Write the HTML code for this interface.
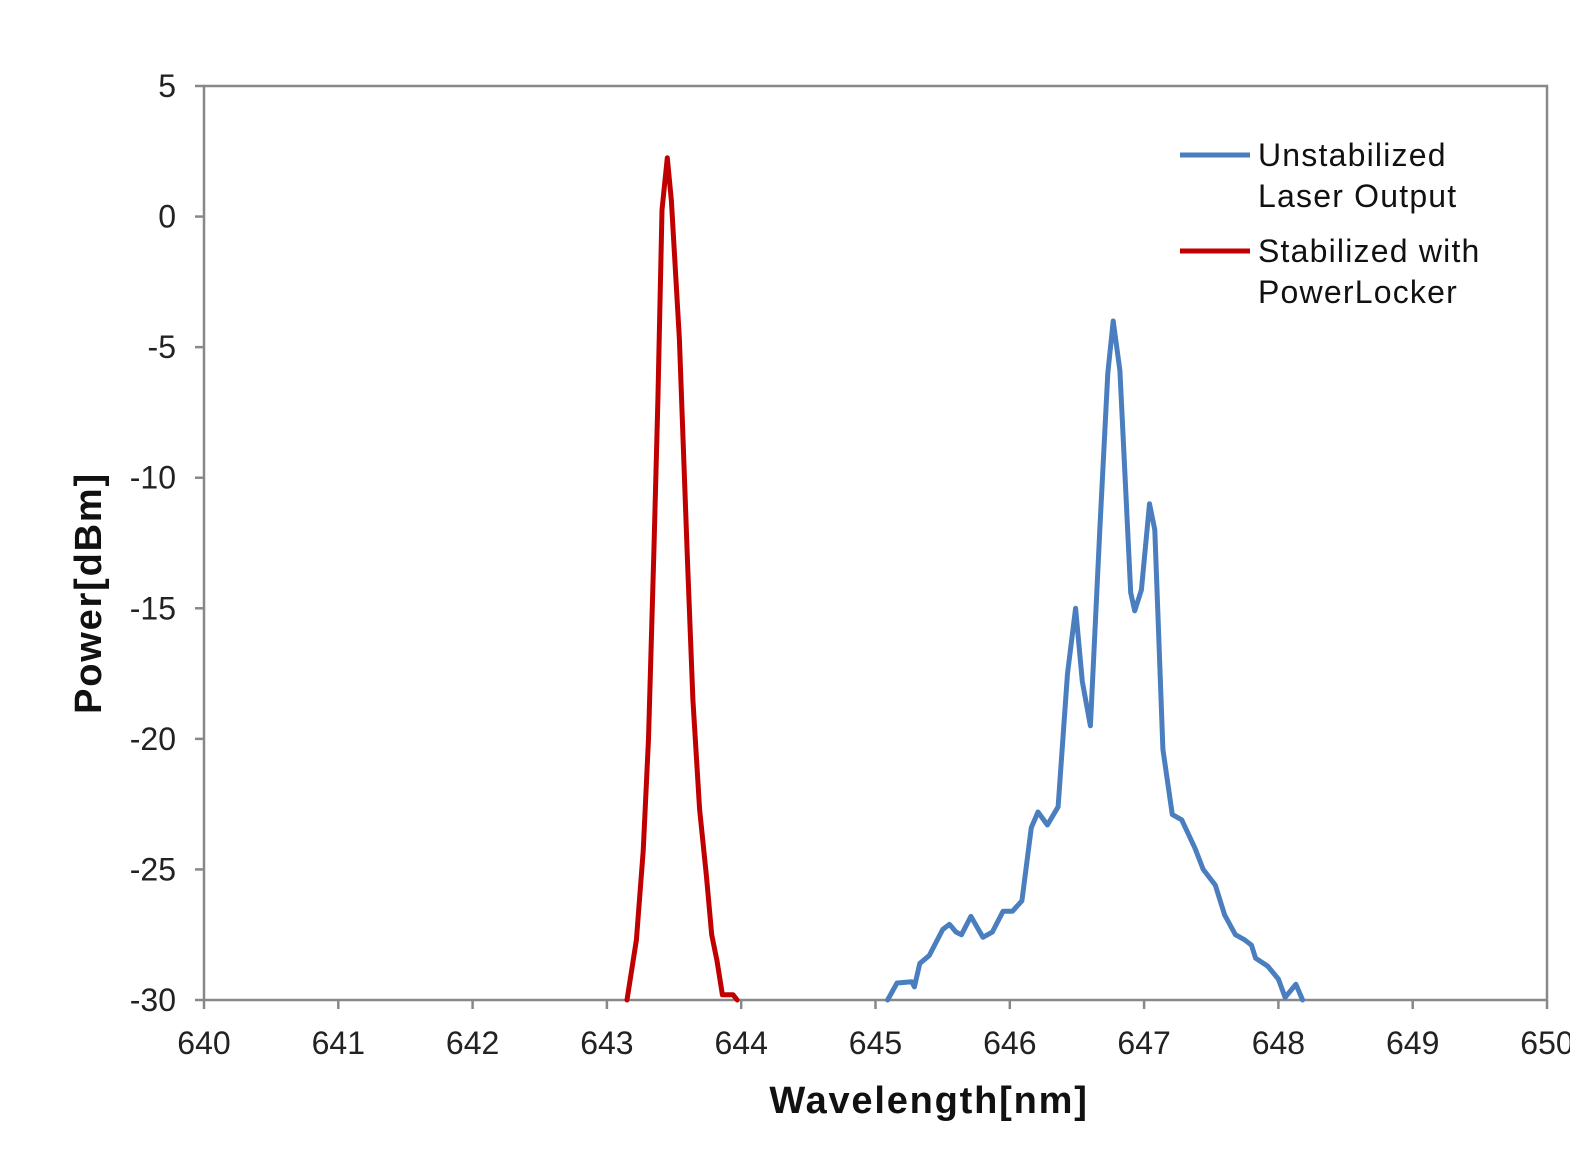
<!DOCTYPE html>
<html><head><meta charset="utf-8"><style>
html,body{margin:0;padding:0;background:#fff;}
svg{display:block;font-family:"Liberation Sans",Arial,sans-serif;}
</style></head><body>
<svg id="chart" width="1570" height="1161" viewBox="0 0 1570 1161">
<g id="axes"></g>
<g id="series"></g>
<g>
 <line x1="1180" y1="155" x2="1250" y2="155" stroke="#4a7ebf" stroke-width="5"/>
 <text x="1258" y="166" font-size="32" letter-spacing="1.2" fill="#111"><tspan x="1258">Unstabilized</tspan><tspan x="1258" dy="41">Laser Output</tspan></text>
 <line x1="1180" y1="251" x2="1250" y2="251" stroke="#c00000" stroke-width="5"/>
 <text x="1258" y="262" font-size="32" letter-spacing="1.2" fill="#111"><tspan x="1258">Stabilized with</tspan><tspan x="1258" dy="41">PowerLocker</tspan></text>
</g>
<text x="929" y="1113" font-size="38" letter-spacing="1.8" font-weight="bold" text-anchor="middle" fill="#111">Wavelength[nm]</text>
<text transform="translate(101,593) rotate(-90)" font-size="38" letter-spacing="1.8" font-weight="bold" text-anchor="middle" fill="#111">Power[dBm]</text>
</svg>
<script>
const xTicks=[640,641,642,643,644,645,646,647,648,649,650];
const yTicks=[5,0,-5,-10,-15,-20,-25,-30];
const blueX=[645.09,645.16,645.27,645.29,645.33,645.40,645.50,645.55,645.60,645.64,645.71,645.80,645.87,645.95,646.02,646.09,646.16,646.21,646.28,646.36,646.43,646.49,646.54,646.60,646.67,646.73,646.77,646.82,646.90,646.93,646.98,647.04,647.08,647.14,647.21,647.28,647.38,647.44,647.53,647.60,647.68,647.75,647.80,647.83,647.92,648.00,648.05,648.13,648.18];
const blueY=[-30,-29.35,-29.3,-29.5,-28.6,-28.3,-27.3,-27.1,-27.4,-27.5,-26.8,-27.6,-27.4,-26.6,-26.6,-26.2,-23.4,-22.8,-23.3,-22.6,-17.5,-15.0,-17.8,-19.5,-12.0,-6.0,-4.0,-5.9,-14.4,-15.1,-14.3,-11.0,-12.0,-20.4,-22.9,-23.1,-24.2,-25.0,-25.6,-26.75,-27.5,-27.7,-27.9,-28.4,-28.7,-29.2,-29.9,-29.4,-30];
const redX=[643.15,643.22,643.27,643.31,643.35,643.38,643.41,643.45,643.48,643.54,643.60,643.64,643.69,643.74,643.78,643.82,643.86,643.94,643.97];
const redY=[-30,-27.7,-24.3,-20.0,-12.8,-7.0,0.25,2.25,0.6,-4.7,-13.2,-18.5,-22.7,-25.2,-27.5,-28.5,-29.8,-29.8,-30];
const L=204,R=1547,T=86,B=1000;
const sx=v=>L+(v-640)/10*(R-L);
const sy=v=>T+(5-v)/35*(B-T);
const NS="http://www.w3.org/2000/svg";
const ax=document.getElementById('axes'),se=document.getElementById('series');
function mk(tag,attrs,parent){const e=document.createElementNS(NS,tag);for(const k in attrs)e.setAttribute(k,attrs[k]);parent.appendChild(e);return e;}
const frame=mk('rect',{x:L,y:T,width:R-L,height:B-T,fill:'none',stroke:'#888','stroke-width':2.5},ax);


xTicks.forEach(v=>{
 const t=mk('line',{x1:sx(v),x2:sx(v),y1:B,y2:B+9,stroke:'#888','stroke-width':2.5},ax);
 
 
 const l=mk('text',{x:sx(v),y:B+54,'font-size':32,'text-anchor':'middle',fill:'#222'},ax);
 l.textContent=v;
 
 
});
yTicks.forEach(v=>{
 const t=mk('line',{x1:L-9,x2:L,y1:sy(v),y2:sy(v),stroke:'#888','stroke-width':2.5},ax);
 
 
 const l=mk('text',{x:L-28,y:sy(v)+11,'font-size':32,'text-anchor':'end',fill:'#222'},ax);
 l.textContent=v;
 
 
});
function path(xs,ys){return xs.map((x,i)=>(i?'L':'M')+sx(x).toFixed(1)+','+sy(ys[i]).toFixed(1)).join('');}
const pb=mk('path',{d:path(blueX,blueY),fill:'none',stroke:'#4a7ebf','stroke-width':5,'stroke-linejoin':'round','stroke-linecap':'round'},se);


const pr=mk('path',{d:path(redX,redY),fill:'none',stroke:'#c00000','stroke-width':5,'stroke-linejoin':'round','stroke-linecap':'round'},se);


</script>
</body></html>
